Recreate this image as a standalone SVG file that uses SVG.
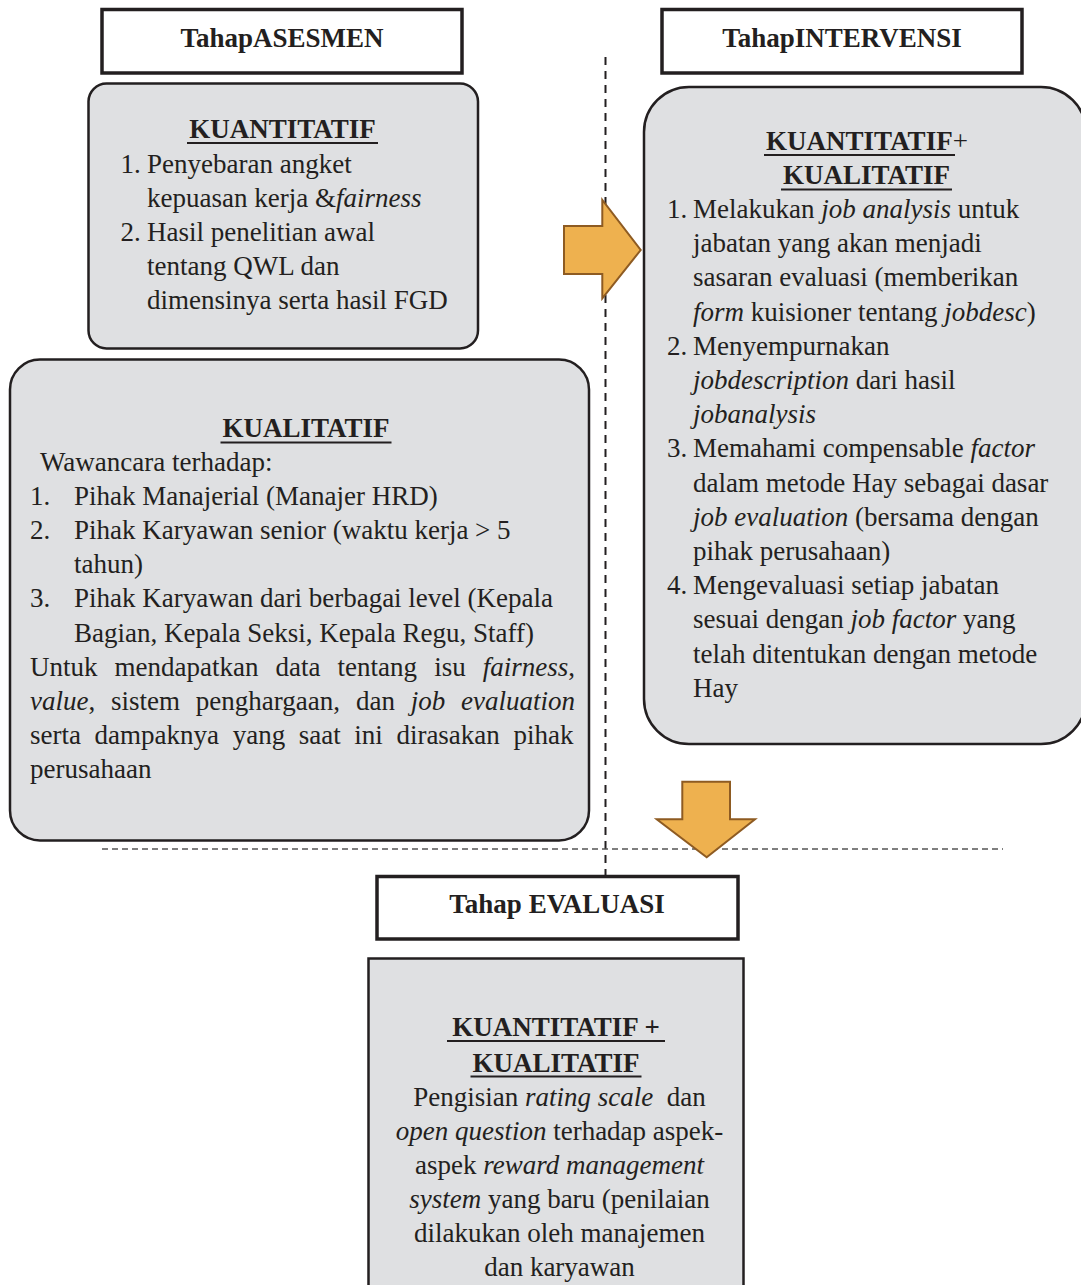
<svg xmlns="http://www.w3.org/2000/svg" width="1081" height="1285" viewBox="0 0 1081 1285">
<defs>
<style>
.t{font-family:"Liberation Serif","Times New Roman",serif;font-size:27px;fill:#231f20}
.b{font-weight:bold}
.i{font-style:italic}
.box{fill:#dfe0e2;stroke:#231f20;stroke-width:2.5}
.hdr{fill:#ffffff;stroke:#231f20;stroke-width:3.5}
.ul{stroke:#231f20;stroke-width:2}
.arrow{fill:#eeb14f;stroke:#8e5b22;stroke-width:2;stroke-linejoin:miter}
.dv{fill:none;stroke:#231f20;stroke-width:2;stroke-dasharray:8 6}
.dh{fill:none;stroke:#555555;stroke-width:1.5;stroke-dasharray:6 4}
</style>
</defs>
<rect width="1081" height="1285" fill="#ffffff"/>

<g id="hdr-asesmen">
<rect class="hdr" x="102" y="9.5" width="360" height="63.5"/>
<text class="t b" x="282" y="47" text-anchor="middle">TahapASESMEN</text>
</g>

<g id="hdr-intervensi">
<rect class="hdr" x="662" y="9.5" width="360" height="63.5"/>
<text class="t b" x="842" y="47" text-anchor="middle">TahapINTERVENSI</text>
</g>

<g id="box-kuantitatif">
<rect class="box" x="88.5" y="83.5" width="389.5" height="265" rx="18"/>
<text class="t b" x="282.5" y="138" text-anchor="middle">KUANTITATIF</text>
<line class="ul" x1="187" y1="143" x2="378" y2="143"/>
<text class="t" x="120.5" y="173">1.</text>
<text class="t" x="147" y="173">Penyebaran angket</text>
<text class="t" x="147" y="207">kepuasan kerja &amp;<tspan class="i">fairness</tspan></text>
<text class="t" x="120.5" y="241">2.</text>
<text class="t" x="147" y="241">Hasil penelitian awal</text>
<text class="t" x="147" y="275">tentang QWL dan</text>
<text class="t" x="147" y="309">dimensinya serta hasil FGD</text>
</g>

<g id="box-kualitatif">
<rect class="box" x="10" y="359.5" width="579" height="481" rx="30"/>
<text class="t b" x="306" y="437" text-anchor="middle">KUALITATIF</text>
<line class="ul" x1="220.5" y1="442.5" x2="391.5" y2="442.5"/>
<text class="t" x="40" y="470.5">Wawancara terhadap:</text>
<text class="t" x="30" y="504.7">1.</text>
<text class="t" x="74" y="504.7">Pihak Manajerial (Manajer HRD)</text>
<text class="t" x="30" y="538.9">2.</text>
<text class="t" x="74" y="538.9">Pihak Karyawan senior (waktu kerja &gt; 5</text>
<text class="t" x="74" y="573.1">tahun)</text>
<text class="t" x="30" y="607.3">3.</text>
<text class="t" x="74" y="607.3">Pihak Karyawan dari berbagai level (Kepala</text>
<text class="t" x="74" y="641.5">Bagian, Kepala Seksi, Kepala Regu, Staff)</text>
<text class="t" y="675.7"><tspan x="30">Untuk</tspan><tspan x="114.6">mendapatkan</tspan><tspan x="275.6">data</tspan><tspan x="337.6">tentang</tspan><tspan x="434.2">isu</tspan><tspan x="482.7" class="i">fairness</tspan>,</text>
<text class="t" y="709.9"><tspan x="30" class="i">value</tspan>,<tspan x="111">sistem</tspan><tspan x="195.7">penghargaan,</tspan><tspan x="356.1">dan</tspan><tspan x="410.8" class="i">job</tspan><tspan x="461" class="i">evaluation</tspan></text>
<text class="t" y="744.1"><tspan x="30">serta</tspan><tspan x="94.6">dampaknya</tspan><tspan x="232.7">yang</tspan><tspan x="298.7">saat</tspan><tspan x="354.3">ini</tspan><tspan x="396.4">dirasakan</tspan><tspan x="513.5">pihak</tspan></text>
<text class="t" x="30" y="778.3">perusahaan</text>
</g>

<g id="box-intervensi">
<rect class="box" x="644" y="87" width="442" height="657" rx="45"/>
<text class="t" x="867" y="150" text-anchor="middle"><tspan class="b">KUANTITATIF</tspan>+</text>
<line class="ul" x1="764" y1="155" x2="955" y2="155"/>
<text class="t b" x="866.5" y="184.3" text-anchor="middle">KUALITATIF</text>
<line class="ul" x1="781" y1="189.5" x2="952" y2="189.5"/>
<text class="t" x="667" y="218">1.</text>
<text class="t" x="693" y="218">Melakukan <tspan class="i">job analysis</tspan> untuk</text>
<text class="t" x="693" y="252.2">jabatan yang akan menjadi</text>
<text class="t" x="693" y="286.4">sasaran evaluasi (memberikan</text>
<text class="t" x="693" y="320.6"><tspan class="i">form</tspan> kuisioner tentang <tspan class="i">jobdesc</tspan>)</text>
<text class="t" x="667" y="354.8">2.</text>
<text class="t" x="693" y="354.8">Menyempurnakan</text>
<text class="t" x="693" y="389"><tspan class="i">jobdescription</tspan> dari hasil</text>
<text class="t i" x="693" y="423.2">jobanalysis</text>
<text class="t" x="667" y="457.4">3.</text>
<text class="t" x="693" y="457.4">Memahami compensable <tspan class="i">factor</tspan></text>
<text class="t" x="693" y="491.6">dalam metode Hay sebagai dasar</text>
<text class="t" x="693" y="525.8"><tspan class="i">job evaluation</tspan> (bersama dengan</text>
<text class="t" x="693" y="560">pihak perusahaan)</text>
<text class="t" x="667" y="594.2">4.</text>
<text class="t" x="693" y="594.2">Mengevaluasi setiap jabatan</text>
<text class="t" x="693" y="628.4">sesuai dengan <tspan class="i">job factor</tspan> yang</text>
<text class="t" x="693" y="662.6">telah ditentukan dengan metode</text>
<text class="t" x="693" y="696.8">Hay</text>
</g>

<g id="hdr-evaluasi">
<rect class="hdr" x="377" y="876.5" width="361" height="62.5"/>
<text class="t b" x="557" y="913" text-anchor="middle">Tahap EVALUASI</text>
</g>

<g id="box-evaluasi">
<rect class="box" x="368.5" y="958.5" width="375" height="345"/>
<text class="t b" x="556" y="1036" text-anchor="middle">KUANTITATIF +</text>
<line class="ul" x1="447" y1="1041" x2="665" y2="1041"/>
<text class="t b" x="556" y="1071.5" text-anchor="middle">KUALITATIF</text>
<line class="ul" x1="470.5" y1="1076.5" x2="641.5" y2="1076.5"/>
<text class="t" x="559.5" y="1106" text-anchor="middle" xml:space="preserve">Pengisian <tspan class="i">rating scale</tspan>  dan</text>
<text class="t" x="559.5" y="1140" text-anchor="middle"><tspan class="i">open question</tspan> terhadap aspek-</text>
<text class="t" x="559.5" y="1174" text-anchor="middle">aspek <tspan class="i">reward management</tspan></text>
<text class="t" x="559.5" y="1208" text-anchor="middle"><tspan class="i">system</tspan> yang baru (penilaian</text>
<text class="t" x="559.5" y="1242" text-anchor="middle">dilakukan oleh manajemen</text>
<text class="t" x="559.5" y="1276" text-anchor="middle">dan karyawan</text>
</g>

<g id="connectors">
<line class="dv" x1="605.5" y1="57" x2="605.5" y2="876"/>
<line class="dh" x1="102" y1="849" x2="1003" y2="849"/>
<path class="arrow" d="M564,226 L602.3,226 L602.3,200 L640.7,250 L602.3,298.3 L602.3,274 L564,274 Z"/>
<path class="arrow" d="M682.3,781.7 L730,781.7 L730,819.3 L755,819.3 L706.7,857.3 L656.7,819.3 L682.3,819.3 Z"/>
</g>
</svg>
